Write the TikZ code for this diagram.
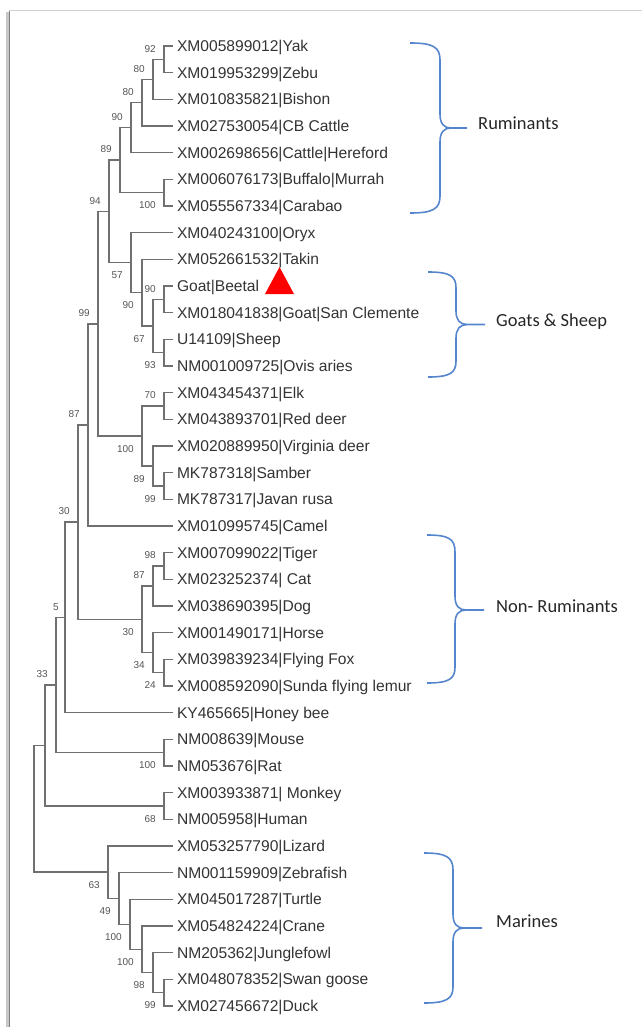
\documentclass[tikz,border=0pt]{standalone}
\usepackage{fontspec}
\setmainfont{Liberation Sans}
\newfontfamily\groupfamily{Carlito}
\usetikzlibrary{positioning}
\definecolor{treeLine}{HTML}{707070}
\definecolor{treeText}{HTML}{333333}
\definecolor{treeBoot}{HTML}{555555}
\definecolor{groupBlue}{HTML}{5585CC}
\definecolor{groupInk}{HTML}{262626}
\definecolor{markRed}{HTML}{FF0000}
\newcommand{\leaffont}{\fontsize{15.6}{18}\selectfont}
\newcommand{\bootfont}{\fontsize{10}{12}\selectfont}
\newcommand{\groupfont}{\groupfamily\fontsize{18.5}{22}\selectfont}
\tikzset{
  tree leaf/.style={anchor=west, inner xsep=4pt, inner ysep=0pt, outer sep=0pt,
    font=\leaffont, text=treeText, text height=11.2pt, text depth=0pt},
  tree branch/.style={draw=treeLine, line width=1.6pt},
  tree boot/.style={font=\bootfont, text=treeBoot, inner sep=0pt},
  group brace/.style={draw=groupBlue, line width=1.6pt},
  group label/.style={font=\groupfont, text=groupInk, anchor=west, inner sep=0pt,
    text height=11.9pt, text depth=0pt},
  frame shade/.style={draw=black!22, line width=4pt},
  frame edge/.style={draw=black!50, line width=1.2pt},
  frame top/.style={draw=black!18, line width=1pt}
}

\begin{document}
\begin{tikzpicture}[x=1pt,y=-1pt]
  \useasboundingbox (0,0) rectangle (642,1027);
  % frame
  \draw[frame shade] (7.5,12) -- (7.5,1027);
  \draw[frame edge] (9.5,11) -- (9.5,1027);
  \draw[frame top] (9,11) -- (642,11);

  % leaves
  \node[tree leaf] (yak) at (173,46) {XM005899012|Yak};
  \node[tree leaf] (zebu) at (173,72.67) {XM019953299|Zebu};
  \node[tree leaf] (bishon) at (173,99.33) {XM010835821|Bishon};
  \node[tree leaf] (cbcattle) at (173,126) {XM027530054|CB Cattle};
  \node[tree leaf] (hereford) at (173,152.67) {XM002698656|Cattle|Hereford};
  \node[tree leaf] (buffalo) at (173,179.33) {XM006076173|Buffalo|Murrah};
  \node[tree leaf] (carabao) at (173,206) {XM055567334|Carabao};
  \node[tree leaf] (oryx) at (173,232.67) {XM040243100|Oryx};
  \node[tree leaf] (takin) at (173,259.33) {XM052661532|Takin};
  \node[tree leaf] (beetal) at (173,286) {Goat|Beetal};
  \node[tree leaf] (clemente) at (173,312.67) {XM018041838|Goat|San Clemente};
  \node[tree leaf] (sheep) at (173,339.33) {U14109|Sheep};
  \node[tree leaf] (ovis) at (173,366) {NM001009725|Ovis aries};
  \node[tree leaf] (elk) at (173,392.67) {XM043454371|Elk};
  \node[tree leaf] (reddeer) at (173,419.33) {XM043893701|Red deer};
  \node[tree leaf] (virginia) at (173,446) {XM020889950|Virginia deer};
  \node[tree leaf] (samber) at (173,472.67) {MK787318|Samber};
  \node[tree leaf] (rusa) at (173,499.33) {MK787317|Javan rusa};
  \node[tree leaf] (camel) at (173,526) {XM010995745|Camel};
  \node[tree leaf] (tiger) at (173,552.67) {XM007099022|Tiger};
  \node[tree leaf] (cat) at (173,579.33) {XM023252374| Cat};
  \node[tree leaf] (dog) at (173,606) {XM038690395|Dog};
  \node[tree leaf] (horse) at (173,632.67) {XM001490171|Horse};
  \node[tree leaf] (flyfox) at (173,659.33) {XM039839234|Flying Fox};
  \node[tree leaf] (sunda) at (173,686) {XM008592090|Sunda flying lemur};
  \node[tree leaf] (bee) at (173,712.67) {KY465665|Honey bee};
  \node[tree leaf] (mouse) at (173,739.33) {NM008639|Mouse};
  \node[tree leaf] (rat) at (173,766) {NM053676|Rat};
  \node[tree leaf] (monkey) at (173,792.67) {XM003933871| Monkey};
  \node[tree leaf] (human) at (173,819.33) {NM005958|Human};
  \node[tree leaf] (lizard) at (173,846) {XM053257790|Lizard};
  \node[tree leaf] (zebrafish) at (173,872.67) {NM001159909|Zebrafish};
  \node[tree leaf] (turtle) at (173,899.33) {XM045017287|Turtle};
  \node[tree leaf] (crane) at (173,926) {XM054824224|Crane};
  \node[tree leaf] (fowl) at (173,952.67) {NM205362|Junglefowl};
  \node[tree leaf] (swan) at (173,979.33) {XM048078352|Swan goose};
  \node[tree leaf] (duck) at (173,1006) {XM027456672|Duck};

  % marker next to the goat sample
  \fill[markRed] (265,294) -- (294,294) -- (279.5,267) -- cycle;

  % internal nodes
  \coordinate (yakZebu) at (164,59.33);
  \coordinate (bisonClade) at (153,79.33);
  \coordinate (cbClade) at (142,102.67);
  \coordinate (cattleClade) at (131,127.67);
  \coordinate (buffaloClade) at (164,192.67);
  \coordinate (bovineClade) at (120,160.17);
  \coordinate (goatClade) at (164,299.33);
  \coordinate (sheepClade) at (164,352.67);
  \coordinate (caprineClade) at (153,326);
  \coordinate (takinClade) at (142,292.67);
  \coordinate (oryxClade) at (131,262.67);
  \coordinate (bovidClade) at (109,211.42);
  \coordinate (elkClade) at (164,406);
  \coordinate (rusaClade) at (164,486);
  \coordinate (virginiaClade) at (153,466);
  \coordinate (deerClade) at (142,436);
  \coordinate (pecoraClade) at (98,323.71);
  \coordinate (camelClade) at (88,424.85);
  \coordinate (felidClade) at (164,566);
  \coordinate (dogClade) at (153,586);
  \coordinate (batClade) at (164,672.67);
  \coordinate (horseClade) at (153,652.67);
  \coordinate (nonRumClade) at (142,619.33);
  \coordinate (mammalClade) at (78,522.09);
  \coordinate (beeClade) at (65,617.38);
  \coordinate (rodentClade) at (164,752.67);
  \coordinate (rodentJoin) at (56,685.02);
  \coordinate (primateClade) at (164,806);
  \coordinate (primateJoin) at (45,745.51);
  \coordinate (duckClade) at (164,992.67);
  \coordinate (fowlClade) at (153,972.67);
  \coordinate (craneClade) at (142,949.33);
  \coordinate (turtleClade) at (130,924.33);
  \coordinate (fishClade) at (119,898.5);
  \coordinate (lizardClade) at (108,872.25);
  \coordinate (treeRoot) at (34,808.88);

  % branches
  \draw[tree branch] (yak.west) -| (yakZebu) |- (zebu.west);
  \draw[tree branch] (yakZebu) -| (bisonClade) |- (bishon.west);
  \draw[tree branch] (bisonClade) -| (cbClade) |- (cbcattle.west);
  \draw[tree branch] (cbClade) -| (cattleClade) |- (hereford.west);
  \draw[tree branch] (buffalo.west) -| (buffaloClade) |- (carabao.west);
  \draw[tree branch] (cattleClade) -| (bovineClade) |- (buffaloClade);
  \draw[tree branch] (beetal.west) -| (goatClade) |- (clemente.west);
  \draw[tree branch] (sheep.west) -| (sheepClade) |- (ovis.west);
  \draw[tree branch] (goatClade) -| (caprineClade) |- (sheepClade);
  \draw[tree branch] (takin.west) -| (takinClade) |- (caprineClade);
  \draw[tree branch] (oryx.west) -| (oryxClade) |- (takinClade);
  \draw[tree branch] (bovineClade) -| (bovidClade) |- (oryxClade);
  \draw[tree branch] (elk.west) -| (elkClade) |- (reddeer.west);
  \draw[tree branch] (samber.west) -| (rusaClade) |- (rusa.west);
  \draw[tree branch] (virginia.west) -| (virginiaClade) |- (rusaClade);
  \draw[tree branch] (elkClade) -| (deerClade) |- (virginiaClade);
  \draw[tree branch] (bovidClade) -| (pecoraClade) |- (deerClade);
  \draw[tree branch] (pecoraClade) -| (camelClade) |- (camel.west);
  \draw[tree branch] (tiger.west) -| (felidClade) |- (cat.west);
  \draw[tree branch] (felidClade) -| (dogClade) |- (dog.west);
  \draw[tree branch] (flyfox.west) -| (batClade) |- (sunda.west);
  \draw[tree branch] (horse.west) -| (horseClade) |- (batClade);
  \draw[tree branch] (dogClade) -| (nonRumClade) |- (horseClade);
  \draw[tree branch] (camelClade) -| (mammalClade) |- (nonRumClade);
  \draw[tree branch] (mammalClade) -| (beeClade) |- (bee.west);
  \draw[tree branch] (mouse.west) -| (rodentClade) |- (rat.west);
  \draw[tree branch] (beeClade) -| (rodentJoin) |- (rodentClade);
  \draw[tree branch] (monkey.west) -| (primateClade) |- (human.west);
  \draw[tree branch] (rodentJoin) -| (primateJoin) |- (primateClade);
  \draw[tree branch] (swan.west) -| (duckClade) |- (duck.west);
  \draw[tree branch] (fowl.west) -| (fowlClade) |- (duckClade);
  \draw[tree branch] (crane.west) -| (craneClade) |- (fowlClade);
  \draw[tree branch] (turtle.west) -| (turtleClade) |- (craneClade);
  \draw[tree branch] (zebrafish.west) -| (fishClade) |- (turtleClade);
  \draw[tree branch] (lizard.west) -| (lizardClade) |- (fishClade);
  \draw[tree branch] (primateJoin) -| (treeRoot) |- (lizardClade);

  % bootstrap values
  \node[tree boot, above left=7pt and 8pt of yakZebu] (yakZebuBoot) {92};
  \node[tree boot, above left=7pt and 8pt of bisonClade] (bisonBoot) {80};
  \node[tree boot, above left=7pt and 8pt of cbClade] (cbBoot) {80};
  \node[tree boot, above left=7pt and 8pt of cattleClade] (cattleBoot) {90};
  \node[tree boot, below left=9pt and 8pt of buffaloClade] (buffaloBoot) {100};
  \node[tree boot, above left=7pt and 8pt of bovineClade] (bovineBoot) {89};
  \node[tree boot, above left=7pt and 8pt of goatClade] (goatBoot) {90};
  \node[tree boot, below left=9pt and 8pt of sheepClade] (sheepBoot) {93};
  \node[tree boot, below left=9pt and 8pt of caprineClade] (caprineBoot) {67};
  \node[tree boot, below left=9pt and 8pt of takinClade] (takinBoot) {90};
  \node[tree boot, below left=9pt and 8pt of oryxClade] (oryxBoot) {57};
  \node[tree boot, above left=7pt and 8pt of bovidClade] (bovidBoot) {94};
  \node[tree boot, above left=7pt and 8pt of elkClade] (elkBoot) {70};
  \node[tree boot, below left=9pt and 8pt of rusaClade] (rusaBoot) {99};
  \node[tree boot, below left=9pt and 8pt of virginiaClade] (virginiaBoot) {89};
  \node[tree boot, below left=9pt and 8pt of deerClade] (deerBoot) {100};
  \node[tree boot, above left=7pt and 8pt of pecoraClade] (pecoraBoot) {99};
  \node[tree boot, above left=7pt and 8pt of camelClade] (camelBoot) {87};
  \node[tree boot, above left=7pt and 8pt of felidClade] (felidBoot) {98};
  \node[tree boot, above left=7pt and 8pt of dogClade] (dogBoot) {87};
  \node[tree boot, below left=9pt and 8pt of batClade] (batBoot) {24};
  \node[tree boot, below left=9pt and 8pt of horseClade] (horseBoot) {34};
  \node[tree boot, below left=9pt and 8pt of nonRumClade] (nonRumBoot) {30};
  \node[tree boot, above left=7pt and 8pt of mammalClade] (mammalBoot) {30};
  \node[tree boot, above left=7pt and 6pt of beeClade] (beeBoot) {5};
  \node[tree boot, below left=9pt and 8pt of rodentClade] (rodentBoot) {100};
  \node[tree boot, above left=7pt and 8pt of rodentJoin] (rodentJoinBoot) {33};
  \node[tree boot, below left=9pt and 8pt of primateClade] (primateBoot) {68};
  \node[tree boot, below left=9pt and 8pt of duckClade] (duckBoot) {99};
  \node[tree boot, below left=9pt and 8pt of fowlClade] (fowlBoot) {98};
  \node[tree boot, below left=9pt and 8pt of craneClade] (craneBoot) {100};
  \node[tree boot, below left=9pt and 8pt of turtleClade] (turtleBoot) {100};
  \node[tree boot, below left=9pt and 8pt of fishClade] (fishBoot) {49};
  \node[tree boot, below left=9pt and 8pt of lizardClade] (lizardBoot) {63};

  % group braces
  \draw[group brace] (410,43) .. controls (433,43) and (440,47) .. (440,60) -- (440,114)
    .. controls (440,124) and (444,128) .. (451,128) coordinate (rumTip) -- (467,128) coordinate (rumEnd);
  \draw[group brace] (rumTip) .. controls (444,128) and (440,132) .. (440,142) -- (440,196)
    .. controls (440,209) and (433,213) .. (410,213);
  \node[group label, right=11pt of rumEnd, yshift=4pt] (rumLabel) {Ruminants};

  \draw[group brace] (428,272) .. controls (450,272) and (456,276) .. (456,288) -- (456,311)
    .. controls (456,320) and (460,324.5) .. (467,324.5) coordinate (goatTip) -- (485,324.5) coordinate (goatEnd);
  \draw[group brace] (goatTip) .. controls (460,324.5) and (456,329) .. (456,338) -- (456,361)
    .. controls (456,373) and (450,377) .. (428,377);
  \node[group label, right=11pt of goatEnd, yshift=4pt] (goatLabel) {Goats \& Sheep};

  \draw[group brace] (427,535) .. controls (449,535) and (455,539) .. (455,552) -- (455,596)
    .. controls (455,606) and (459,610) .. (466,610) coordinate (nonRumTip) -- (484,610) coordinate (nonRumEnd);
  \draw[group brace] (nonRumTip) .. controls (459,610) and (455,614) .. (455,624) -- (455,667)
    .. controls (455,679) and (449,683) .. (427,683);
  \node[group label, right=12pt of nonRumEnd, yshift=3pt] (nonRumLabel) {Non- Ruminants};

  \draw[group brace] (424,853) .. controls (446,853) and (453,857) .. (453,870) -- (453,914)
    .. controls (453,924) and (457,928) .. (464,928) coordinate (marineTip) -- (482,928) coordinate (marineEnd);
  \draw[group brace] (marineTip) .. controls (457,928) and (453,932) .. (453,942) -- (453,987)
    .. controls (453,999) and (446,1003) .. (424,1003);
  \node[group label, right=14pt of marineEnd, yshift=6pt] (marineLabel) {Marines};
\end{tikzpicture}
\end{document}
